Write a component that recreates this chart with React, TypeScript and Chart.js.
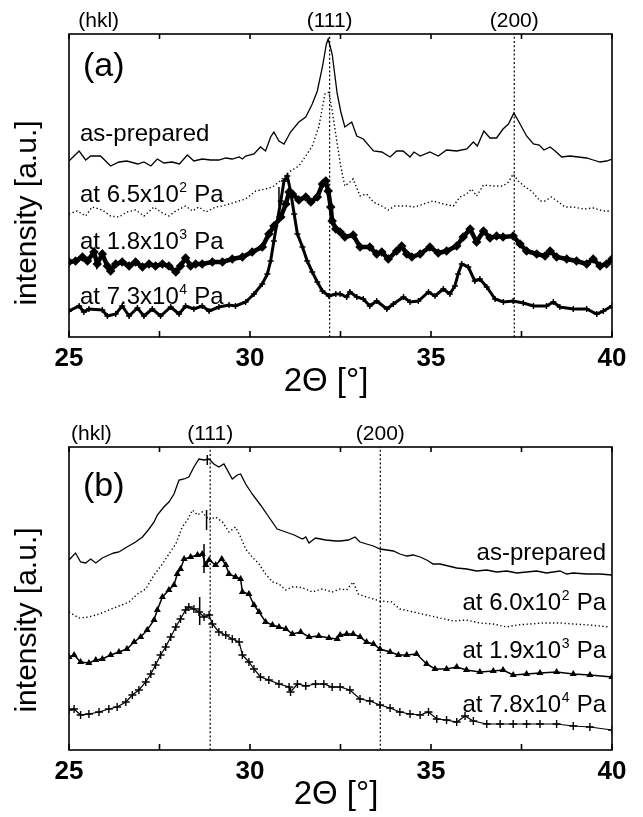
import React, { useEffect, useRef } from "react";
import { Chart, registerables } from "chart.js";

Chart.register(...registerables);

type Pt = [number, number];

// ---------- axes ----------
const X_MIN = 25;
const X_MAX = 40;
const X_TICK_STEP = 2.5;
const X_LABEL_STEP = 5;
const Y_MIN = 0;
const Y_MAX = 303;

// ---------- panel (a) ----------
const A_ASPREP: Pt[] = [
  [25, 176], [25.28, 186], [25.46, 177], [25.6, 181], [25.87, 181], [26.15, 171], [26.38, 175], [26.6, 176],
  [26.9, 173], [27.07, 175], [27.26, 171], [27.44, 178], [27.62, 174], [27.85, 175], [28.05, 173], [28.27, 182],
  [28.45, 176], [28.68, 178], [28.91, 177], [29.14, 177], [29.33, 179], [29.51, 178], [29.7, 180], [29.79, 178],
  [29.88, 181], [30.11, 183], [30.29, 190], [30.43, 186], [30.57, 200], [30.66, 205], [30.8, 196], [30.94, 193],
  [31.12, 205], [31.35, 215], [31.54, 220], [31.72, 233], [31.86, 246], [32.0, 270], [32.11, 293], [32.16, 298],
  [32.27, 283], [32.41, 243], [32.51, 225], [32.62, 210], [32.81, 215], [32.95, 201], [33.13, 198], [33.41, 186],
  [33.64, 185], [33.87, 180], [34.05, 186], [34.23, 186], [34.42, 180], [34.53, 185], [34.7, 181], [34.97, 185],
  [35.2, 181], [35.43, 187], [35.71, 186], [35.99, 188], [36.17, 195], [36.28, 191], [36.46, 206], [36.63, 199],
  [36.81, 199], [36.99, 208], [37.14, 213], [37.29, 224], [37.46, 213], [37.64, 201], [37.83, 193], [37.99, 192],
  [38.12, 187], [38.29, 190], [38.43, 186], [38.61, 180], [38.84, 181], [39.07, 180], [39.3, 179], [39.48, 177],
  [39.67, 175], [39.85, 176], [40, 178],
];
const A_P650: Pt[] = [
  [25, 123], [25.23, 126], [25.46, 121], [25.64, 130], [25.92, 127], [26.15, 121], [26.38, 120], [26.6, 125],
  [26.84, 127], [27.07, 121], [27.35, 130], [27.53, 125], [27.76, 121], [27.95, 126], [28.22, 131], [28.41, 126],
  [28.59, 130], [28.78, 125], [29.05, 130], [29.24, 131], [29.42, 133], [29.6, 135], [29.88, 138], [30.16, 146],
  [30.43, 148], [30.62, 150], [30.8, 155], [31.08, 165], [31.35, 171], [31.54, 181], [31.72, 191], [31.9, 210],
  [32.07, 243], [32.18, 245], [32.27, 226], [32.41, 193], [32.51, 170], [32.62, 151], [32.76, 155], [32.85, 158],
  [33.04, 141], [33.22, 143], [33.41, 135], [33.64, 131], [33.82, 127], [34.0, 131], [34.33, 131], [34.56, 130],
  [34.79, 133], [35.06, 136], [35.34, 133], [35.62, 131], [35.8, 140], [35.98, 143], [36.12, 148], [36.26, 141],
  [36.45, 152], [36.72, 151], [36.99, 151], [37.14, 155], [37.27, 163], [37.41, 156], [37.6, 150], [37.78, 146],
  [38.01, 136], [38.15, 136], [38.33, 140], [38.52, 135], [38.7, 130], [38.93, 130], [39.21, 128], [39.48, 129],
  [39.76, 126], [39.95, 126],
];
const A_P1800: Pt[] = [
  [25, 75], [25.18, 76], [25.37, 80], [25.51, 76], [25.69, 85], [25.78, 73], [25.92, 83], [26.06, 71],
  [26.15, 66], [26.29, 73], [26.47, 75], [26.66, 71], [26.84, 75], [27.03, 70], [27.21, 73], [27.39, 71],
  [27.58, 73], [27.76, 71], [27.95, 65], [28.08, 71], [28.22, 79], [28.36, 71], [28.5, 73], [28.68, 73],
  [28.96, 75], [29.24, 75], [29.51, 78], [29.79, 80], [30.06, 85], [30.34, 90], [30.52, 103], [30.66, 111],
  [30.85, 120], [30.99, 133], [31.08, 145], [31.17, 143], [31.35, 137], [31.54, 140], [31.68, 135], [31.86, 140],
  [32.0, 153], [32.09, 156], [32.16, 146], [32.23, 130], [32.27, 116], [32.37, 108], [32.49, 105], [32.62, 100],
  [32.85, 102], [33.04, 90], [33.31, 90], [33.5, 83], [33.64, 85], [33.82, 78], [34.05, 86], [34.19, 91],
  [34.33, 83], [34.47, 80], [34.7, 83], [34.97, 90], [35.2, 84], [35.43, 86], [35.71, 91], [35.89, 100],
  [36.08, 108], [36.26, 95], [36.45, 106], [36.63, 99], [36.81, 101], [36.99, 100], [37.27, 101], [37.46, 93],
  [37.64, 86], [37.92, 83], [38.15, 81], [38.29, 86], [38.47, 80], [38.75, 78], [39.02, 76], [39.3, 73],
  [39.48, 78], [39.67, 71], [39.85, 73], [40, 78],
];
const A_P73000: Pt[] = [
  [25, 26], [25.28, 31], [25.41, 25], [25.55, 28], [25.92, 27], [26.06, 21], [26.29, 23], [26.47, 31],
  [26.66, 21], [26.89, 29], [27.07, 21], [27.3, 28], [27.53, 21], [27.81, 30], [28.04, 23], [28.22, 31],
  [28.45, 28], [28.68, 31], [28.87, 26], [29.14, 30], [29.42, 32], [29.6, 31], [29.88, 35], [30.11, 43],
  [30.34, 53], [30.48, 63], [30.57, 76], [30.66, 96], [30.75, 115], [30.85, 136], [30.94, 156], [31.03, 161],
  [31.12, 146], [31.22, 123], [31.31, 103], [31.45, 90], [31.58, 76], [31.72, 65], [31.86, 55], [32.0, 46],
  [32.18, 41], [32.37, 43], [32.49, 43], [32.67, 40], [32.76, 45], [32.95, 40], [33.13, 38], [33.31, 31],
  [33.5, 36], [33.78, 28], [33.96, 33], [34.24, 40], [34.42, 35], [34.65, 36], [34.93, 45], [35.11, 41],
  [35.34, 48], [35.52, 43], [35.66, 51], [35.75, 63], [35.85, 73], [36.03, 70], [36.21, 56], [36.35, 58],
  [36.54, 50], [36.77, 38], [37.0, 35], [37.27, 36], [37.55, 34], [37.83, 31], [38.19, 31], [38.38, 35],
  [38.56, 30], [38.93, 28], [39.3, 28], [39.58, 23], [39.76, 26], [40, 31],
];
const A_REFLECTIONS = [32.2, 37.3];
const A_PEAK_MARKS: [number, number, number][] = [[30.8, 131, 150]];
const A_HKL_POS = [25.82, 32.2, 37.3];

// ---------- panel (b) ----------
const B_ASPREP: Pt[] = [
  [25, 190], [25.18, 197], [25.32, 188], [25.46, 187], [25.6, 191], [25.74, 187], [25.92, 192], [26.1, 195],
  [26.24, 197], [26.38, 198], [26.6, 203], [26.84, 208], [27.03, 213], [27.21, 221], [27.35, 228], [27.44, 235],
  [27.62, 243], [27.76, 248], [27.9, 256], [28.04, 270], [28.18, 271], [28.31, 273], [28.45, 283], [28.59, 291],
  [28.73, 290], [28.87, 291], [29.0, 286], [29.14, 283], [29.28, 286], [29.51, 271], [29.65, 275], [29.74, 276],
  [29.88, 266], [30.06, 256], [30.29, 245], [30.52, 233], [30.75, 221], [30.99, 218], [31.22, 215], [31.45, 211],
  [31.54, 213], [31.63, 207], [31.81, 212], [32.09, 210], [32.37, 209], [32.49, 209], [32.72, 210], [32.9, 213],
  [33.04, 208], [33.22, 206], [33.41, 204], [33.59, 201], [33.78, 200], [33.96, 199], [34.14, 196], [34.33, 194],
  [34.51, 195], [34.7, 193], [34.88, 190], [35.06, 186], [35.25, 186], [35.48, 184], [35.71, 182], [35.99, 181],
  [36.26, 179], [36.54, 180], [36.81, 178], [37.09, 179], [37.37, 177], [37.64, 178], [37.92, 179], [38.19, 177],
  [38.56, 179], [38.75, 176], [38.93, 177], [39.3, 176], [39.67, 176], [40, 175],
];
const B_P600: Pt[] = [
  [25, 138], [25.28, 132], [25.55, 133], [25.83, 136], [26.1, 140], [26.38, 144], [26.66, 148], [26.89, 156],
  [27.12, 161], [27.35, 175], [27.58, 186], [27.76, 196], [27.95, 206], [28.13, 223], [28.27, 230], [28.41, 240],
  [28.55, 235], [28.68, 238], [28.87, 230], [29.05, 233], [29.24, 228], [29.42, 218], [29.6, 223], [29.74, 213],
  [29.88, 201], [30.06, 193], [30.25, 186], [30.43, 176], [30.62, 168], [30.8, 166], [30.99, 160], [31.17, 163],
  [31.35, 163], [31.54, 161], [31.72, 158], [32.0, 161], [32.27, 158], [32.49, 161], [32.67, 160], [32.85, 168],
  [32.99, 156], [33.22, 153], [33.59, 149], [33.91, 148], [34.14, 141], [34.51, 138], [34.88, 135], [35.25, 132],
  [35.62, 129], [35.98, 130], [36.35, 127], [36.72, 126], [37.09, 123], [37.37, 125], [37.73, 126], [38.1, 127],
  [38.56, 127], [38.93, 126], [39.39, 125], [39.94, 123],
];
const B_P1900: Pt[] = [
  [25, 93], [25.14, 95], [25.32, 88], [25.55, 87], [25.74, 90], [25.92, 91], [26.15, 95], [26.38, 98],
  [26.6, 101], [26.8, 108], [26.98, 113], [27.16, 120], [27.35, 130], [27.44, 140], [27.58, 153], [27.76, 160],
  [27.9, 165], [27.99, 176], [28.08, 181], [28.18, 191], [28.36, 193], [28.55, 195], [28.68, 196], [28.78, 185],
  [28.87, 190], [29.05, 185], [29.22, 191], [29.33, 185], [29.42, 176], [29.6, 173], [29.74, 171], [29.79, 158],
  [29.97, 156], [30.11, 145], [30.25, 138], [30.43, 128], [30.62, 125], [30.8, 123], [30.99, 121], [31.17, 116],
  [31.4, 118], [31.63, 113], [31.9, 114], [32.18, 112], [32.41, 111], [32.49, 115], [32.67, 116], [32.85, 116],
  [33.04, 113], [33.22, 108], [33.41, 106], [33.59, 101], [33.87, 98], [34.1, 95], [34.33, 95], [34.6, 96],
  [34.88, 86], [35.11, 81], [35.43, 81], [35.71, 83], [35.98, 80], [36.35, 78], [36.72, 79], [36.99, 80],
  [37.27, 75], [37.64, 76], [38.01, 77], [38.47, 78], [38.93, 76], [39.39, 75], [40, 73],
];
const B_P78000: Pt[] = [
  [25, 40], [25.14, 41], [25.32, 35], [25.55, 36], [25.83, 38], [26.1, 41], [26.33, 43], [26.57, 48],
  [26.75, 55], [26.93, 60], [27.12, 68], [27.26, 76], [27.39, 85], [27.53, 95], [27.67, 103], [27.81, 113],
  [27.95, 123], [28.08, 131], [28.22, 140], [28.31, 143], [28.45, 141], [28.59, 138], [28.73, 133], [28.87, 135],
  [28.96, 126], [29.14, 118], [29.33, 115], [29.51, 111], [29.7, 108], [29.79, 95], [29.97, 88], [30.11, 81],
  [30.29, 73], [30.52, 70], [30.8, 66], [31.08, 63], [31.12, 58], [31.31, 66], [31.54, 64], [31.81, 66],
  [32.04, 66], [32.27, 63], [32.49, 63], [32.76, 60], [33.04, 51], [33.31, 49], [33.59, 45], [33.87, 42],
  [34.14, 38], [34.42, 36], [34.7, 35], [34.93, 38], [35.16, 31], [35.43, 30], [35.71, 28], [35.94, 34],
  [36.17, 29], [36.54, 26], [36.91, 26], [37.27, 26], [37.64, 26], [38.01, 26], [38.47, 26], [38.93, 24],
  [39.39, 23], [40, 20],
];
const B_REFLECTIONS = [28.9, 33.6];
const B_PEAK_MARKS: [number, number, number][] = [
  [28.82, 285, 295], [28.8, 220, 240], [28.73, 177, 206], [28.61, 125, 153],
];
const B_HKL_POS = [25.62, 28.9, 33.6];

// ---------- text ----------
const HKL_LABELS = ["(hkl)", "(111)", "(200)"];
type Lbl = { base: string; sup: string; tail: string };
const A_SERIES_LABELS: Lbl[] = [
  { base: "as-prepared", sup: "", tail: "" },
  { base: "at 6.5x10", sup: "2", tail: " Pa" },
  { base: "at 1.8x10", sup: "3", tail: " Pa" },
  { base: "at 7.3x10", sup: "4", tail: " Pa" },
];
const B_SERIES_LABELS: Lbl[] = [
  { base: "as-prepared", sup: "", tail: "" },
  { base: "at 6.0x10", sup: "2", tail: " Pa" },
  { base: "at 1.9x10", sup: "3", tail: " Pa" },
  { base: "at 7.8x10", sup: "4", tail: " Pa" },
];
const X_TITLE = "2\u0398 [\u00b0]";
const Y_TITLE = "intensity [a.u.]";

const FONT = "'Liberation Sans', Arial, Helvetica, sans-serif";

const toXY = (pts: Pt[]) => pts.map(([x, y]) => ({ x, y }));

function series(pts: Pt[], style: any) {
  return {
    data: toXY(pts),
    borderColor: "#000",
    backgroundColor: "#000",
    pointBorderColor: "#000",
    pointBackgroundColor: "#000",
    pointRadius: 0,
    tension: 0,
    fill: false,
    ...style,
  };
}
function refLine(x: number) {
  return series([[x, Y_MIN], [x, Y_MAX]], { borderWidth: 1.2, borderDash: [2, 2.2] });
}
function markLine(m: [number, number, number]) {
  return series([[m[0], m[1]], [m[0], m[2]]], { borderWidth: 1.5 });
}

function drawSupLabel(ctx: CanvasRenderingContext2D, l: Lbl, x: number, y: number, align: "left" | "right") {
  const font = `24px ${FONT}`;
  const supFont = `14px ${FONT}`;
  ctx.font = font;
  const w1 = ctx.measureText(l.base).width;
  const w3 = ctx.measureText(l.tail).width;
  ctx.font = supFont;
  const w2 = l.sup ? ctx.measureText(l.sup).width + 1 : 0;
  const sx = align === "right" ? x - (w1 + w2 + w3) : x;
  ctx.textAlign = "left";
  ctx.textBaseline = "alphabetic";
  ctx.font = font;
  ctx.fillText(l.base, sx, y);
  if (l.sup) {
    ctx.font = supFont;
    ctx.fillText(l.sup, sx + w1 + 0.5, y - 10);
  }
  ctx.font = font;
  ctx.fillText(l.tail, sx + w1 + w2, y);
}

type PanelCfg = {
  top: number;
  height: number;
  xAxisHeight: number;
  datasets: any[];
  hklPos: number[];
  panelLabel: string;
  panelLabelPos: [number, number];
  seriesLabels: Lbl[];
  seriesLabelX: number;
  seriesLabelY: number[];
  seriesAlign: "left" | "right";
  xTitleX: number;
  yTitleY: number;
};

function makeConfig(p: PanelCfg): any {
  const decor = {
    id: "decor",
    afterDraw(chart: any) {
      const { ctx, chartArea: ca, scales } = chart;
      const xs = scales.x;
      ctx.save();
      ctx.strokeStyle = "#000";
      ctx.fillStyle = "#000";
      ctx.lineWidth = 1.6;
      ctx.strokeRect(ca.left, ca.top, ca.right - ca.left, ca.bottom - ca.top);
      // inward tick marks on top and bottom borders
      xs.ticks.forEach((_t: any, i: number) => {
        const px = xs.getPixelForTick(i);
        ctx.beginPath();
        ctx.moveTo(px, ca.bottom);
        ctx.lineTo(px, ca.bottom - 6);
        ctx.moveTo(px, ca.top);
        ctx.lineTo(px, ca.top + 5);
        ctx.stroke();
      });
      // hkl labels
      ctx.font = `21px ${FONT}`;
      ctx.textAlign = "center";
      ctx.textBaseline = "alphabetic";
      HKL_LABELS.forEach((t, i) => {
        ctx.fillText(t, xs.getPixelForValue(p.hklPos[i]), ca.top - 7);
      });
      // panel label
      ctx.font = `34px ${FONT}`;
      ctx.textAlign = "left";
      ctx.fillText(p.panelLabel, p.panelLabelPos[0], p.panelLabelPos[1]);
      // series labels
      p.seriesLabels.forEach((l, i) => drawSupLabel(ctx, l, p.seriesLabelX, p.seriesLabelY[i], p.seriesAlign));
      // x title
      ctx.font = `33px ${FONT}`;
      ctx.textAlign = "center";
      ctx.textBaseline = "alphabetic";
      ctx.fillText(X_TITLE, p.xTitleX, ca.bottom + 54);
      // y title
      ctx.translate(28, p.yTitleY);
      ctx.rotate(-Math.PI / 2);
      ctx.font = `30px ${FONT}`;
      ctx.textAlign = "center";
      ctx.textBaseline = "middle";
      ctx.fillText(Y_TITLE, 0, 0);
      ctx.restore();
    },
  };
  return {
    type: "line",
    data: { datasets: p.datasets },
    options: {
      animation: false,
      responsive: true,
      maintainAspectRatio: false,
      events: [],
      layout: { padding: { left: 69, right: 31, top: p.top, bottom: 0 } },
      plugins: { legend: { display: false }, tooltip: { enabled: false }, title: { display: false } },
      scales: {
        x: {
          type: "linear",
          position: "bottom",
          min: X_MIN,
          max: X_MAX,
          afterFit: (s: any) => {
            s.height = p.xAxisHeight;
          },
          grid: { display: false, drawTicks: false },
          border: { display: false },
          ticks: {
            stepSize: X_TICK_STEP,
            autoSkip: false,
            maxRotation: 0,
            padding: 6,
            color: "#000",
            font: { family: FONT, size: 26, weight: "bold" },
            callback: (v: number) => (Math.abs(v % X_LABEL_STEP) < 1e-6 ? String(v) : ""),
          },
        },
        y: { type: "linear", min: Y_MIN, max: Y_MAX, display: false },
      },
    },
    plugins: [decor],
  };
}

const PANEL_A: PanelCfg = {
  top: 34,
  height: 410,
  xAxisHeight: 73,
  datasets: [
    ...A_REFLECTIONS.map(refLine),
    ...A_PEAK_MARKS.map(markLine),
    series(A_ASPREP, { borderWidth: 1.3 }),
    series(A_P650, { borderWidth: 1.4, borderDash: [1.3, 2.5] }),
    series(A_P1800, { borderWidth: 4.5, pointRadius: 1.6, pointStyle: "rectRot" }),
    series(A_P73000, { borderWidth: 3, pointRadius: 3, pointStyle: "cross", pointBorderWidth: 1.4 }),
  ],
  hklPos: A_HKL_POS,
  panelLabel: "(a)",
  panelLabelPos: [83, 76],
  seriesLabels: A_SERIES_LABELS,
  seriesLabelX: 80,
  seriesLabelY: [141, 202, 249, 304],
  seriesAlign: "left",
  xTitleX: 326,
  yTitleY: 213,
};

const PANEL_B: PanelCfg = {
  top: 37,
  height: 407,
  xAxisHeight: 67,
  datasets: [
    ...B_REFLECTIONS.map(refLine),
    ...B_PEAK_MARKS.map(markLine),
    series(B_ASPREP, { borderWidth: 1.3 }),
    series(B_P600, { borderWidth: 1.4, borderDash: [1.3, 2.5] }),
    series(B_P1900, { borderWidth: 1.5, pointRadius: 2.6, pointStyle: "triangle" }),
    series(B_P78000, { borderWidth: 1.2, pointRadius: 4, pointStyle: "cross", pointBorderWidth: 1.4 }),
  ],
  hklPos: B_HKL_POS,
  panelLabel: "(b)",
  panelLabelPos: [83, 86],
  seriesLabels: B_SERIES_LABELS,
  seriesLabelX: 606,
  seriesLabelY: [150, 200, 248, 302],
  seriesAlign: "right",
  xTitleX: 336,
  yTitleY: 210,
};

function Panel({ cfg, y }: { cfg: PanelCfg; y: number }) {
  const ref = useRef<HTMLCanvasElement>(null);
  useEffect(() => {
    const chart = new Chart(ref.current as HTMLCanvasElement, makeConfig(cfg));
    return () => chart.destroy();
  }, []);
  return (
    <div style={{ position: "absolute", left: 0, top: y, width: 643, height: cfg.height }}>
      <canvas ref={ref} />
    </div>
  );
}

export default function App() {
  return (
    <div style={{ position: "absolute", left: 0, top: 0, width: 643, height: 817, background: "#fff" }}>
      <Panel cfg={PANEL_A} y={0} />
      <Panel cfg={PANEL_B} y={410} />
    </div>
  );
}
